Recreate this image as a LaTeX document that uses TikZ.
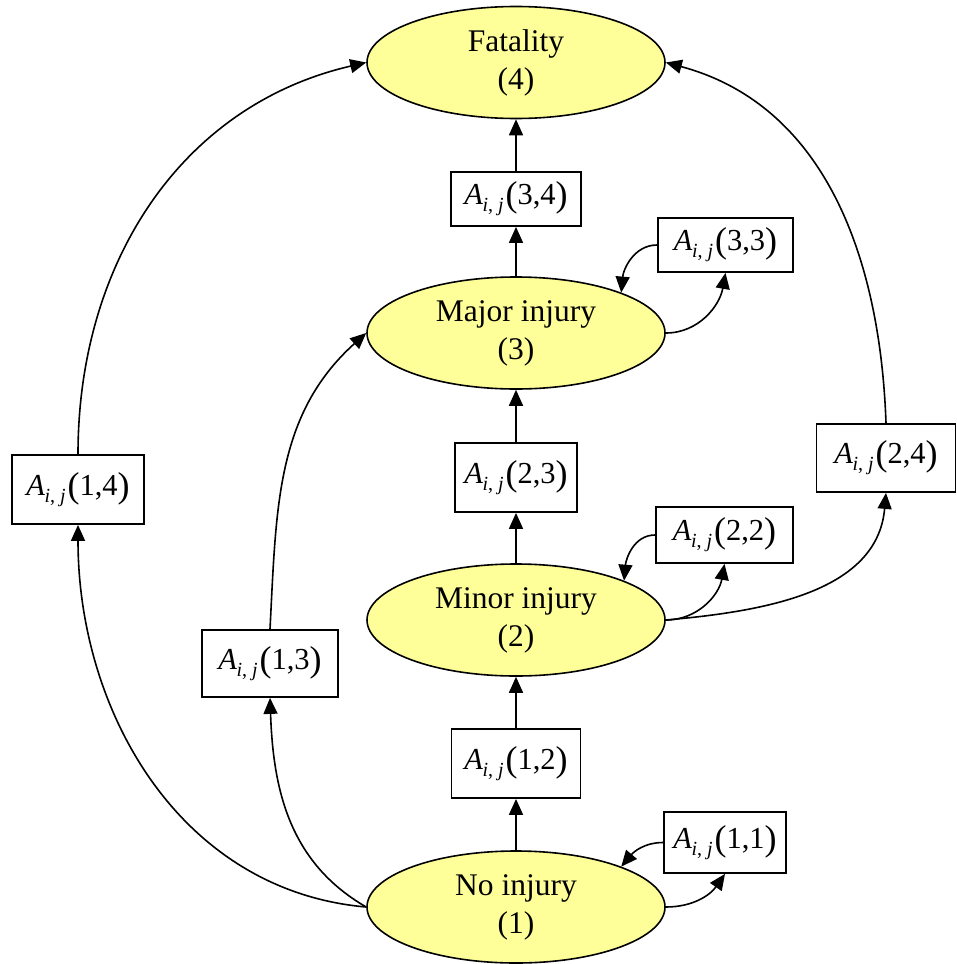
\documentclass[tikz,border=0pt]{standalone}
\usepackage{fontspec}
\setmainfont{Liberation Serif}
\usetikzlibrary{shapes.geometric,arrows.meta}
\definecolor{ellfill}{RGB}{255,255,153}
\newcommand{\aijlabel}[1]{{\fontsize{30.5}{30}\selectfont\textit{A}\kern-0.5pt\raisebox{-7pt}{\fontsize{20}{20}\selectfont\textit{i}, \textit{j}}\kern2pt\raisebox{-2pt}{\fontsize{36}{36}\selectfont(}#1\raisebox{-2pt}{\fontsize{36}{36}\selectfont)}}}
\begin{document}
\begin{tikzpicture}[x=1pt,y=1pt,
  state/.style={ellipse,draw,line width=1.6pt,fill=ellfill,minimum width=298pt,minimum height=112pt,inner sep=0pt,align=center,font=\fontsize{31.5}{38}\selectfont},
  probbox/.style={rectangle,draw,line width=1.8pt,fill=white,inner sep=0pt},
  conn/.style={line width=1.6pt,-{Triangle[length=16pt,width=14pt]}}]
\path[use as bounding box] (0,0) rectangle (956,-964);
% states
\node[state] (s4) at (516,-62.5) {Fatality\\(4)};
\node[state] (s3) at (516,-333) {Major injury\\(3)};
\node[state] (s2) at (516,-620) {Minor injury\\(2)};
\node[state] (s1) at (516,-907) {No injury\\(1)};
% boxes
\node[probbox,minimum width=130pt,minimum height=54pt] (b34) at (516,-199) {\aijlabel{3,4}};
\node[probbox,minimum width=135pt,minimum height=54pt] (b33) at (725.5,-245) {\aijlabel{3,3}};
\node[probbox,minimum width=122pt,minimum height=69pt] (b23) at (516,-477.5) {\aijlabel{2,3}};
\node[probbox,minimum width=137pt,minimum height=56pt] (b22) at (724.5,-535) {\aijlabel{2,2}};
\node[probbox,minimum width=139pt,minimum height=68pt] (b24) at (886,-458) {\aijlabel{2,4}};
\node[probbox,minimum width=132pt,minimum height=69pt] (b14) at (78,-489.5) {\aijlabel{1,4}};
\node[probbox,minimum width=136pt,minimum height=67pt] (b13) at (270,-663.5) {\aijlabel{1,3}};
\node[probbox,minimum width=129pt,minimum height=69pt] (b12) at (516,-763.5) {\aijlabel{1,2}};
\node[probbox,minimum width=122pt,minimum height=61pt] (b11) at (725,-842.5) {\aijlabel{1,1}};
% vertical chain
\draw[conn] (b34.north) -- (s4.south);
\draw[conn] (s3.north) -- (b34.south);
\draw[conn] (b23.north) -- (s3.south);
\draw[conn] (s2.north) -- (b23.south);
\draw[conn] (b12.north) -- (s2.south);
\draw[conn] (s1.north) -- (b12.south);
% self loops
\draw[conn] (b33.west) to[out=180,in=85] (s3.21);
\draw[conn] (s3.east) to[out=0,in=-100] (b33.south);
\draw[conn] (b22.west) to[out=180,in=85] (s2.20);
\draw[conn] (s2.east) to[out=0,in=-100] (b22.south);
\draw[conn] (b11.west) to[out=180,in=50] (s1.21);
\draw[conn] (s1.east) to[out=0,in=-125] (b11.south);
% long jumps
\draw[conn] (s2.east) to[out=5,in=-95] (b24.south);
\draw[conn] (b24.north) to[out=92,in=-15] (s4.east);
\draw[conn] (b14.north) to[out=90,in=193] (s4.west);
\draw[conn] (s1.west) to[out=175,in=-90] (b14.south);
\draw[conn] (s1.west) to[out=150,in=-88] (b13.south);
\draw[conn] (b13.north) to[out=87,in=222] (s3.west);
\end{tikzpicture}
\end{document}
